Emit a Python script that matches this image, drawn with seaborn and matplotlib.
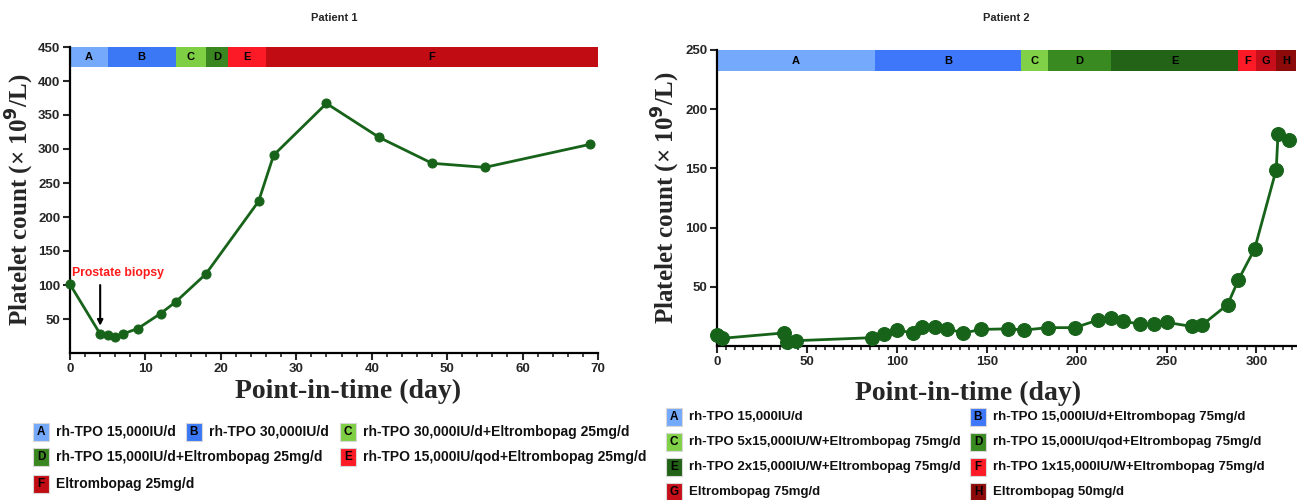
import numpy as np
import pandas as pd
import matplotlib
matplotlib.use('Agg')
import matplotlib.pyplot as plt
import seaborn as sns
from matplotlib.patches import Rectangle
from matplotlib.ticker import MultipleLocator

# ---- data: patient 1
p1_day = [0, 4, 5, 6, 7, 9, 12, 14, 18, 25, 27, 34, 41, 48, 55, 69]
p1_plt = [101, 28, 26, 24, 28, 36, 58, 75, 116, 223, 291, 367, 317, 279, 273, 307]
p1_phase = ['A', 'B', 'C', 'D', 'E', 'F']
p1_phase_start = [0, 5, 14, 18, 21, 26]
p1_phase_end = [5, 14, 18, 21, 26, 70]
p1_phase_col = ['#74a9fb', '#3b78f6', '#7fcf45', '#3a8722', '#fb1a25', '#c20c14']
p1_phase_txt = ['rh-TPO 15,000IU/d', 'rh-TPO 30,000IU/d',
                'rh-TPO 30,000IU/d+Eltrombopag 25mg/d',
                'rh-TPO 15,000IU/d+Eltrombopag 25mg/d',
                'rh-TPO 15,000IU/qod+Eltrombopag 25mg/d',
                'Eltrombopag 25mg/d']

# ---- data: patient 2
p2_day = [0, 3, 37, 39, 44, 86, 93, 100, 109, 114, 121, 128, 137, 147, 162, 171,
          184, 199, 212, 219, 226, 235, 243, 250, 264, 270, 284, 290, 299, 311, 312, 318]
p2_plt = [9.5, 6.5, 11, 3, 4.5, 7, 10, 13.5, 11, 16, 16, 14.5, 11, 14, 14.5, 13.5,
          15.5, 15.5, 22, 23.5, 21, 18.5, 18.5, 20, 16.5, 18, 35, 56, 82, 149, 179, 174]
p2_phase = ['A', 'B', 'C', 'D', 'E', 'F', 'G', 'H']
p2_phase_start = [0, 88, 169, 184, 219, 290, 300, 311]
p2_phase_end = [88, 169, 184, 219, 290, 300, 311, 322]
p2_phase_col = ['#74a9fb', '#3f77fb', '#80d048', '#3a8a22', '#226317', '#fb1a25', '#c60f1a', '#8c0a0a']
p2_phase_txt = ['rh-TPO 15,000IU/d', 'rh-TPO 15,000IU/d+Eltrombopag 75mg/d',
                'rh-TPO 5x15,000IU/W+Eltrombopag 75mg/d',
                'rh-TPO 15,000IU/qod+Eltrombopag 75mg/d',
                'rh-TPO 2x15,000IU/W+Eltrombopag 75mg/d',
                'rh-TPO 1x15,000IU/W+Eltrombopag 75mg/d',
                'Eltrombopag 75mg/d', 'Eltrombopag 50mg/d']

sns.set_style('ticks')
plt.rcParams['font.family'] = ['Liberation Sans', 'DejaVu Sans']
plt.rcParams['font.weight'] = 'bold'

line_col = '#17631a'
W, H = 1297, 500
fig = plt.figure(figsize=(12.97, 5.0), dpi=100)
ax1 = fig.add_axes([70 / W, 1 - 353 / H, 528 / W, 306 / H])
ax2 = fig.add_axes([717 / W, 1 - 346 / H, 579 / W, 296 / H])


def draw_panel(ax, days, vals, starts, ends, cols, names, band, ylim, xlim,
               yticks, xmajor, xminor, msize, title, xl_pos, yl_pos):
    df = pd.DataFrame({'day': days, 'plt': vals})
    sns.lineplot(data=df, x='day', y='plt', ax=ax, color=line_col, lw=2,
                 marker='o', markersize=msize, markeredgecolor=line_col,
                 estimator=None, sort=False, clip_on=False, zorder=3)
    widths = np.array(ends) - np.array(starts)
    ax.bar(x=starts, height=band[1] - band[0], width=widths, bottom=band[0],
           align='edge', color=cols, lw=0, zorder=2)
    for s, e, n in zip(starts, ends, names):
        ax.text((s + e) / 2, (band[0] + band[1]) / 2, n, ha='center', va='center',
                fontsize=8, fontweight='bold', color='black', zorder=4)
    ax.set_xlim(*xlim)
    ax.set_ylim(*ylim)
    ax.set_yticks(yticks)
    ax.xaxis.set_major_locator(MultipleLocator(xmajor))
    ax.xaxis.set_minor_locator(MultipleLocator(xminor))
    ax.tick_params(axis='both', which='major', direction='out', length=5, width=1.5,
                   labelsize=9.5, pad=2)
    ax.tick_params(axis='x', which='minor', direction='out', length=3, width=1.2)
    for lab in ax.get_xticklabels() + ax.get_yticklabels():
        lab.set_fontweight('bold')
    sns.despine(ax=ax)
    for sp in ['left', 'bottom']:
        ax.spines[sp].set_linewidth(1.6)
        ax.spines[sp].set_color('black')
    ax.set_xlabel('Point-in-time (day)', family='Liberation Serif', fontsize=20,
                  fontweight='bold')
    ax.set_ylabel('Platelet count (× 10$^{9}$/L)', family='Liberation Serif',
                  fontsize=18, fontweight='bold')
    ax.xaxis.set_label_coords(xl_pos[0], xl_pos[1])
    ax.yaxis.set_label_coords(yl_pos, 0.5)
    bb = ax.get_position()
    fig.text((bb.x0 + bb.x1) / 2, 1 - 18 / H, title, ha='center', va='center',
             fontsize=8, fontweight='bold')


draw_panel(ax1, p1_day, p1_plt, p1_phase_start, p1_phase_end, p1_phase_col, p1_phase,
           (420, 450), (0, 450), (0, 70), [50, 100, 150, 200, 250, 300, 350, 400, 450],
           10, 2, 6.5, 'Patient 1', (0.527, -0.086), -0.064)
draw_panel(ax2, p2_day, p2_plt, p2_phase_start, p2_phase_end, p2_phase_col, p2_phase,
           (232, 250), (0, 250), (0, 322), [50, 100, 150, 200, 250],
           50, 5, 10, 'Patient 2', (0.434, -0.117), -0.060)

ax1.text(0.3, 117, 'Prostate biopsy', color='#ff1a1a', fontsize=8.8, fontweight='bold',
         ha='left', va='center')
ax1.annotate('', xy=(4, 36), xytext=(4, 104),
             arrowprops=dict(arrowstyle='-|>', color='black', lw=1.5, mutation_scale=8))

# ---- legends below the panels (pixel layout)
p1_pos = [(33, 432), (186, 432), (340, 432), (33, 457), (340, 457), (33, 484)]
p2_pos = [(666, 417), (970, 417), (666, 442), (970, 442), (666, 467), (970, 467),
          (666, 492), (970, 492)]


def draw_legend(names, cols, texts, pos, fs):
    for n, c, t, (x, y) in zip(names, cols, texts, pos):
        fig.patches.append(Rectangle((x / W, 1 - (y + 9) / H), 16 / W, 18 / H,
                                     transform=fig.transFigure, fc=c,
                                     ec='#d8d8d8', lw=0.8))
        fig.text((x + 8) / W, 1 - y / H, n, ha='center', va='center', fontsize=8.5,
                 fontweight='bold', color='black')
        fig.text((x + 23) / W, 1 - y / H, t, ha='left', va='center', fontsize=fs,
                 fontweight='bold', color='#111111')


draw_legend(p1_phase, p1_phase_col, p1_phase_txt, p1_pos, 10)
draw_legend(p2_phase, p2_phase_col, p2_phase_txt, p2_pos, 9.5)

fig.savefig('out.png', dpi=100, facecolor='white')
